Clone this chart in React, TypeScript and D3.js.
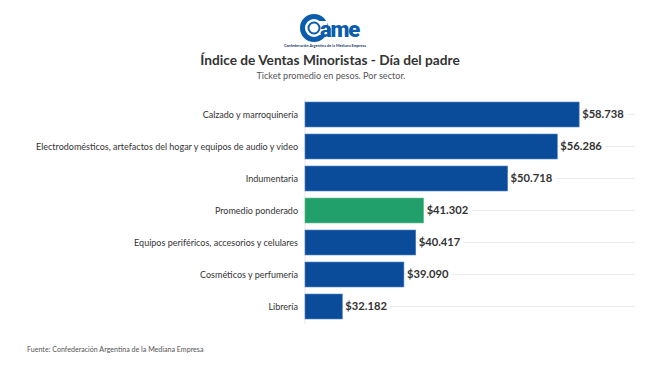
import React from 'react';
import * as d3 from 'd3';

const categories = [
  'Calzado y marroquinería',
  'Electrodomésticos, artefactos del hogar y equipos de audio y video',
  'Indumentaria',
  'Promedio ponderado',
  'Equipos periféricos, accesorios y celulares',
  'Cosméticos y perfumería',
  'Librería',
];
const values = [58738, 56286, 50718, 41302, 40417, 39090, 32182];
const highlight = 'Promedio ponderado';

const W = 655;
const H = 365;
const FONT = 'Lato, "Open Sans", sans-serif';

const fmt = (v: number) => '$' + d3.format(',')(v).replace(/,/g, '.');

export default function App() {
  const x = d3.scaleLinear().domain([28000, 65000]).range([305, 635]);
  const y = d3.scaleBand<string>().domain(categories).range([98.5, 322.5]).paddingInner(0.22).paddingOuter(0.11);

  return (
    <svg width={W} height={H} style={{ position: 'absolute', left: 0, top: 0, background: '#fff' }} fontFamily={FONT}>
      {/* logo */}
      <g>
        <circle cx={314} cy={28} r={11.5} fill="none" stroke="#0b5cab" strokeWidth={5} />
        <rect x={318} y={21} width={9} height={14} fill="#fff" />
        <circle cx={314} cy={28} r={5.5} fill="none" stroke="#0b5cab" strokeWidth={2} />
        <text x={320} y={37} fontSize={22} fontWeight={900} fill="#0b5cab" fontFamily="Roboto, sans-serif" letterSpacing={-1.2}>ame</text>
        <text x={325} y={47} fontSize={3.8} fontWeight={700} fill="#1a3a6b" textAnchor="middle">Confederación Argentina de la Mediana Empresa</text>
      </g>

      <text x={330} y={65} textAnchor="middle" fontSize={13.7} fontWeight={700} fill="#333">Índice de Ventas Minoristas - Día del padre</text>
      <text x={331} y={79} textAnchor="middle" fontSize={9.1} fill="#555">Ticket promedio en pesos. Por sector.</text>

      {/* grid lines */}
      {categories.map((c) => (
        <line key={'g' + c} x1={305} x2={635} y1={y(c)! + y.bandwidth() / 2} y2={y(c)! + y.bandwidth() / 2} stroke="#ebebeb" strokeWidth={1} />
      ))}
      <line x1={305} x2={305} y1={98} y2={324} stroke="#e8e8e8" />

      {categories.map((c, i) => {
        const cy = y(c)! + y.bandwidth() / 2;
        return (
          <g key={c}>
            <rect x={x(28000)} y={y(c)} width={x(values[i]) - x(28000)} height={y.bandwidth()}
              fill={c === highlight ? '#22a06c' : '#0a4c9a'} stroke={c === highlight ? '#5cc294' : '#4a7fc0'} strokeWidth={0.6} />
            <rect x={x(values[i]) + 2} y={cy - 7} width={46} height={14} fill="#fff" />
            <text x={x(values[i]) + 3} y={cy} dy="0.35em" fontSize={11.2} fontWeight={700} fill="#333">{fmt(values[i])}</text>
            <text x={298} y={cy} dy="0.35em" textAnchor="end" fontSize={9} fill="#333">{c}</text>
          </g>
        );
      })}

      <text x={27} y={352} fontSize={7.1} fill="#555">Fuente: Confederación Argentina de la Mediana Empresa</text>
    </svg>
  );
}
